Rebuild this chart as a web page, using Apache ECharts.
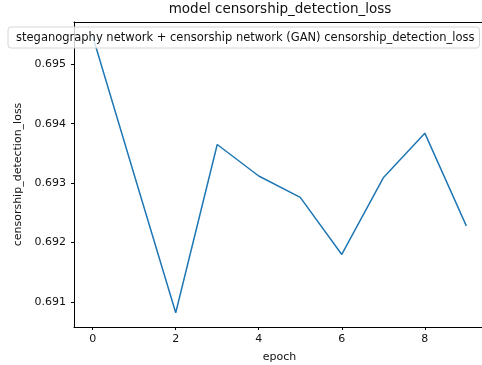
<!DOCTYPE html>
<html>
<head>
<meta charset="utf-8">
<script src="https://cdn.jsdelivr.net/npm/echarts@6/dist/echarts.min.js"></script>
<style>
  html, body { margin: 0; padding: 0; background: #fff; }
  #chart { width: 482px; height: 365px; }
</style>
</head>
<body>
<div id="chart"></div>
<script>
// values
var epochs = [0, 1, 2, 3, 4, 5, 6, 7, 8, 9];
var lossValues = [0.69547, 0.69314, 0.69082, 0.69365, 0.69312, 0.69276, 0.69180, 0.69309, 0.69384, 0.69228];
var xTicks = [0, 2, 4, 6, 8];
var yTicks = [0.691, 0.692, 0.693, 0.694, 0.695];
var seriesName = 'steganography network + censorship network (GAN) censorship_detection_loss';

var font = 'DejaVu Sans';
var points = [];
for (var i = 0; i < epochs.length; i++) {
  points.push([epochs[i], lossValues[i]]);
}

var chart = echarts.init(document.getElementById('chart'));
var option = {
  backgroundColor: '#ffffff',
  animation: false,
  title: {
    text: 'model censorship_detection_loss',
    left: 280,
    top: 2,
    padding: 0,
    textAlign: 'center',
    textStyle: { fontFamily: font, fontSize: 13.5, fontWeight: 'normal', color: '#111' }
  },
  legend: {
    left: 8,
    top: 27,
    padding: [4, 5, 4, 3],
    itemWidth: 0,
    itemGap: 0,
    backgroundColor: 'rgba(255,255,255,0.8)',
    borderColor: '#d6d6d6',
    borderWidth: 1,
    borderRadius: 3,
    textStyle: { fontFamily: font, fontSize: 11.5, color: '#111' },
    data: [{ name: seriesName, icon: 'none' }]
  },
  grid: {
    left: 74,
    top: 22,
    width: 411,
    height: 305,
    outerBoundsMode: 'none'
  },
  xAxis: [{
    type: 'value',
    min: -0.45,
    max: 9.45,
    name: 'epoch',
    nameLocation: 'middle',
    nameGap: 25,
    nameTextStyle: { fontFamily: font, fontSize: 11, color: '#111' },
    splitLine: { show: false },
    axisLine: { show: true, onZero: false, lineStyle: { color: '#000', width: 1 } },
    axisTick: { show: true, length: 3, customValues: xTicks, lineStyle: { color: '#000' } },
    axisLabel: {
      customValues: xTicks,
      margin: 7,
      fontFamily: font, fontSize: 11, color: '#111'
    }
  }, {
    // top frame of the axes box
    type: 'value',
    position: 'top',
    min: -0.45,
    max: 9.45,
    splitLine: { show: false },
    axisLine: { show: true, onZero: false, lineStyle: { color: '#000', width: 1 } },
    axisTick: { show: false },
    axisLabel: { show: false }
  }],
  yAxis: {
    type: 'value',
    min: 0.69058,
    max: 0.69571,
    name: 'censorship_detection_loss',
    nameLocation: 'middle',
    nameRotate: 90,
    nameGap: 45,
    nameTextStyle: { fontFamily: font, fontSize: 11, color: '#111' },
    splitLine: { show: false },
    axisLine: { show: true, onZero: false, lineStyle: { color: '#000', width: 1 } },
    axisTick: { show: true, length: 3, customValues: yTicks, lineStyle: { color: '#000' } },
    axisLabel: {
      customValues: yTicks,
      margin: 8,
      fontFamily: font, fontSize: 11, color: '#111',
      formatter: function (v) { return v.toFixed(3); }
    }
  },
  series: [{
    name: seriesName,
    type: 'line',
    data: points,
    symbol: 'none',
    lineStyle: { color: '#1f77b4', width: 1.5 },
    itemStyle: { color: '#1f77b4' }
  }]
};
chart.setOption(option);
</script>
</body>
</html>
